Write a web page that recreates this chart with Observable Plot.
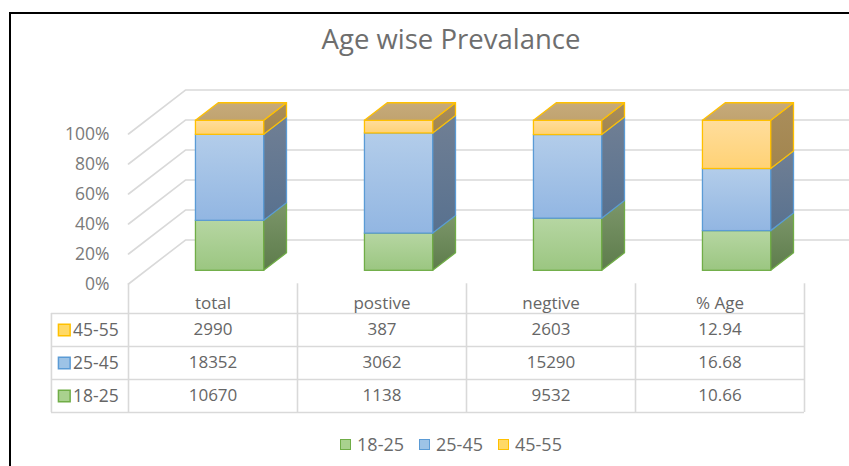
<!DOCTYPE html>
<html><head><meta charset="utf-8">
<script src="https://cdn.jsdelivr.net/npm/d3@7"></script>
<script src="https://cdn.jsdelivr.net/npm/@observablehq/plot@0.6"></script>
<style>
body{margin:0;background:#fff;font-family:"Open Sans",sans-serif;}
#wrap{position:relative;width:849px;height:466px;overflow:hidden;background:#fff;}
#frame{position:absolute;left:9px;top:12px;width:900px;height:500px;border-left:2px solid #000;border-top:2px solid #000;z-index:5;}
#title{position:absolute;top:20px;left:0;width:902px;text-align:center;font-size:27.5px;line-height:38px;color:#6e6e6e;font-family:"Open Sans",sans-serif;}
#chart{position:absolute;left:0;top:0;}
#table{position:absolute;left:0;top:283px;}
#legend{position:absolute;top:432px;left:0;width:902px;display:flex;justify-content:center;gap:15px;font-size:18px;color:#6a6a6a;}
#legend .it{display:flex;align-items:center;gap:6px;}
#legend .sw{width:9px;height:9px;border:1.5px solid;}
svg{overflow:visible;}
</style></head>
<body><div id="wrap"><div id="frame"></div><div id="title">Age wise Prevalance</div><div id="chart"></div><div id="table"></div><div id="legend"></div></div>
<script>
// ---- data ----
const categories = ["total", "postive", "negtive", "% Age"];
const series = ["18-25", "25-45", "45-55"];
const v18_25 = [10670, 1138, 9532, 10.66];
const v25_45 = [18352, 3062, 15290, 16.68];
const v45_55 = [2990, 387, 2603, 12.94];
const yTicks = [0, 20, 40, 60, 80, 100];
const tableRows = ["45-55", "25-45", "18-25"];

// ---- styles ----
const strokeCol = {"18-25": "#70ad47", "25-45": "#5b9bd5", "45-55": "#ffc000"};
const swatchFill = {"18-25": "#a9d18e", "25-45": "#9dc3e6", "45-55": "#ffd966"};
const gid = {"18-25": "g", "25-45": "b", "45-55": "y"};

const valuesBySeries = {"18-25": v18_25, "25-45": v25_45, "45-55": v45_55};

// 3D geometry (in scale units): depth offset of the floor, bar half width, bar depth span
const DX = 0.337, DY = 29.3, W = 0.202, Z0 = 0.3, Z1 = 0.7;

// stacked percentages
const segs = [];
categories.forEach((c, i) => {
  const tot = series.reduce((a, s) => a + valuesBySeries[s][i], 0);
  let acc = 0;
  series.forEach((s, k) => {
    const p = valuesBySeries[s][i] / tot * 100;
    segs.push({i, s, k, y0: acc, y1: acc + p, top: k === series.length - 1});
    acc += p;
  });
});

const grid = yTicks.flatMap(t => [
  {t, x: 0, y: t}, {t, x: DX, y: t + DY}, {t, x: 4 + DX + 0.3, y: t + DY}
]);

function sidePts(list) {
  return list.flatMap(d => {
    const xr = d.i + 0.5 + W + Z0 * DX;
    const id = d.i + "-" + d.s;
    return [
      {id, x: xr, yb: d.y0 + Z0 * DY, yt: d.y1 + Z0 * DY},
      {id, x: xr + (Z1 - Z0) * DX, yb: d.y0 + Z1 * DY, yt: d.y1 + Z1 * DY}
    ];
  });
}
function topPts(list) {
  return list.flatMap(d => {
    const xl = d.i + 0.5 - W + Z0 * DX, xr = d.i + 0.5 + W + Z0 * DX;
    const dd = (Z1 - Z0) * DX, h = d.y1 + Z0 * DY, h2 = d.y1 + Z1 * DY;
    const id = d.i;
    return [
      {id, x: xl, yb: h, yt: h},
      {id, x: xl + dd, yb: h, yt: h2},
      {id, x: xr, yb: h, yt: h2},
      {id, x: xr + dd, yb: h2, yt: h2}
    ];
  });
}

const defs = () => {
  const d = d3.create("svg:defs");
  const grads = [
    ["fg", "#b6d6a2", "#9bc681"], ["sg", "#7c966a", "#5d7c4b"],
    ["fb", "#b3cdea", "#92b6e2"], ["sb", "#707f94", "#58718f"],
    ["fy", "#ffdd9c", "#ffd275"], ["sy", "#aa8e5c", "#a2854e"],
    ["ty", "#c6aa7a", "#c0a370"]
  ];
  for (const [id, a, b] of grads) {
    const g = d.append("linearGradient").attr("id", id).attr("x1", 0).attr("y1", 0).attr("x2", 0).attr("y2", 1);
    g.append("stop").attr("offset", "0%").attr("stop-color", a);
    g.append("stop").attr("offset", "100%").attr("stop-color", b);
  }
  return d.node();
};

const barMarks = [];
for (const s of series) {
  const list = segs.filter(d => d.s === s);
  barMarks.push(
    Plot.rect(list, {
      x1: d => d.i + 0.5 - W + Z0 * DX, x2: d => d.i + 0.5 + W + Z0 * DX,
      y1: d => d.y0 + Z0 * DY, y2: d => d.y1 + Z0 * DY,
      fill: `url(#f${gid[s]})`, stroke: strokeCol[s], strokeWidth: 1.3
    }),
    Plot.area(sidePts(list), {
      x1: "x", y1: "yb", y2: "yt", z: "id", curve: "linear",
      fill: `url(#s${gid[s]})`, stroke: strokeCol[s], strokeWidth: 1.3, strokeLinejoin: "round"
    })
  );
}
barMarks.push(Plot.area(topPts(segs.filter(d => d.top)), {
  x1: "x", y1: "yb", y2: "yt", z: "id", curve: "linear",
  fill: "url(#ty)", stroke: strokeCol["45-55"], strokeWidth: 1.3, strokeLinejoin: "round"
}));

const chart = Plot.plot({
  width: 849, height: 290, margin: 0,
  style: {background: "transparent", fontFamily: "Open Sans, sans-serif", overflow: "visible"},
  x: {domain: [0, 4], range: [128, 804], axis: null},
  y: {domain: [0, 100], range: [283.5, 133.5], axis: null},
  marks: [
    defs,
    Plot.line(grid, {x: "x", y: "y", z: "t", stroke: "#d9d9d9", strokeWidth: 1.6, curve: "linear"}),
    Plot.text(yTicks, {x: 0, y: d => d, text: d => d + "%", textAnchor: "end", dx: -19, fill: "#7a7a7a", fontSize: 17.5}),
    ...barMarks
  ]
});
document.getElementById("chart").append(chart);

// ---- data table ----
const cells = tableRows.flatMap((s, r) => categories.map((c, i) => ({r, i, v: valuesBySeries[s][i]})));
const X0 = -0.456;
const table = Plot.plot({
  width: 849, height: 135, margin: 0,
  style: {background: "transparent", fontFamily: "Open Sans, sans-serif", overflow: "visible"},
  x: {domain: [0, 4], range: [128, 804], axis: null},
  y: {domain: [0, 3], range: [30, 129], axis: null},
  marks: [
    Plot.ruleY([0, 1, 2, 3], {x1: X0, x2: 4, stroke: "#d9d9d9", strokeWidth: 1.6}),
    Plot.ruleX([0, 1, 2, 3, 4], {y1: -0.9, y2: 3, stroke: "#d9d9d9", strokeWidth: 1.6}),
    Plot.ruleX([X0], {y1: 0, y2: 3, stroke: "#d9d9d9", strokeWidth: 1.6}),
    Plot.text(categories, {x: (d, i) => i + 0.5, y: -0.3, text: d => d, fill: "#666", fontSize: 17}),
    Plot.text(cells, {x: d => d.i + 0.5, y: d => d.r + 0.5, text: d => String(d.v), fill: "#666", fontSize: 17}),
    Plot.dot(tableRows, {x: X0 + 0.076, y: (d, r) => r + 0.5, symbol: "square", r: 6.6, fill: d => swatchFill[d], stroke: d => strokeCol[d], strokeWidth: 1.5}),
    Plot.text(tableRows, {x: X0 + 0.128, y: (d, r) => r + 0.5, text: d => d, textAnchor: "start", fill: "#666", fontSize: 17.5})
  ]
});
document.getElementById("table").append(table);

// ---- legend ----
const lg = document.getElementById("legend");
for (const s of series) {
  const it = document.createElement("div"); it.className = "it";
  const sw = document.createElement("div"); sw.className = "sw";
  sw.style.background = swatchFill[s]; sw.style.borderColor = strokeCol[s];
  const tx = document.createElement("span"); tx.textContent = s;
  it.append(sw, tx); lg.append(it);
}
</script></body></html>
